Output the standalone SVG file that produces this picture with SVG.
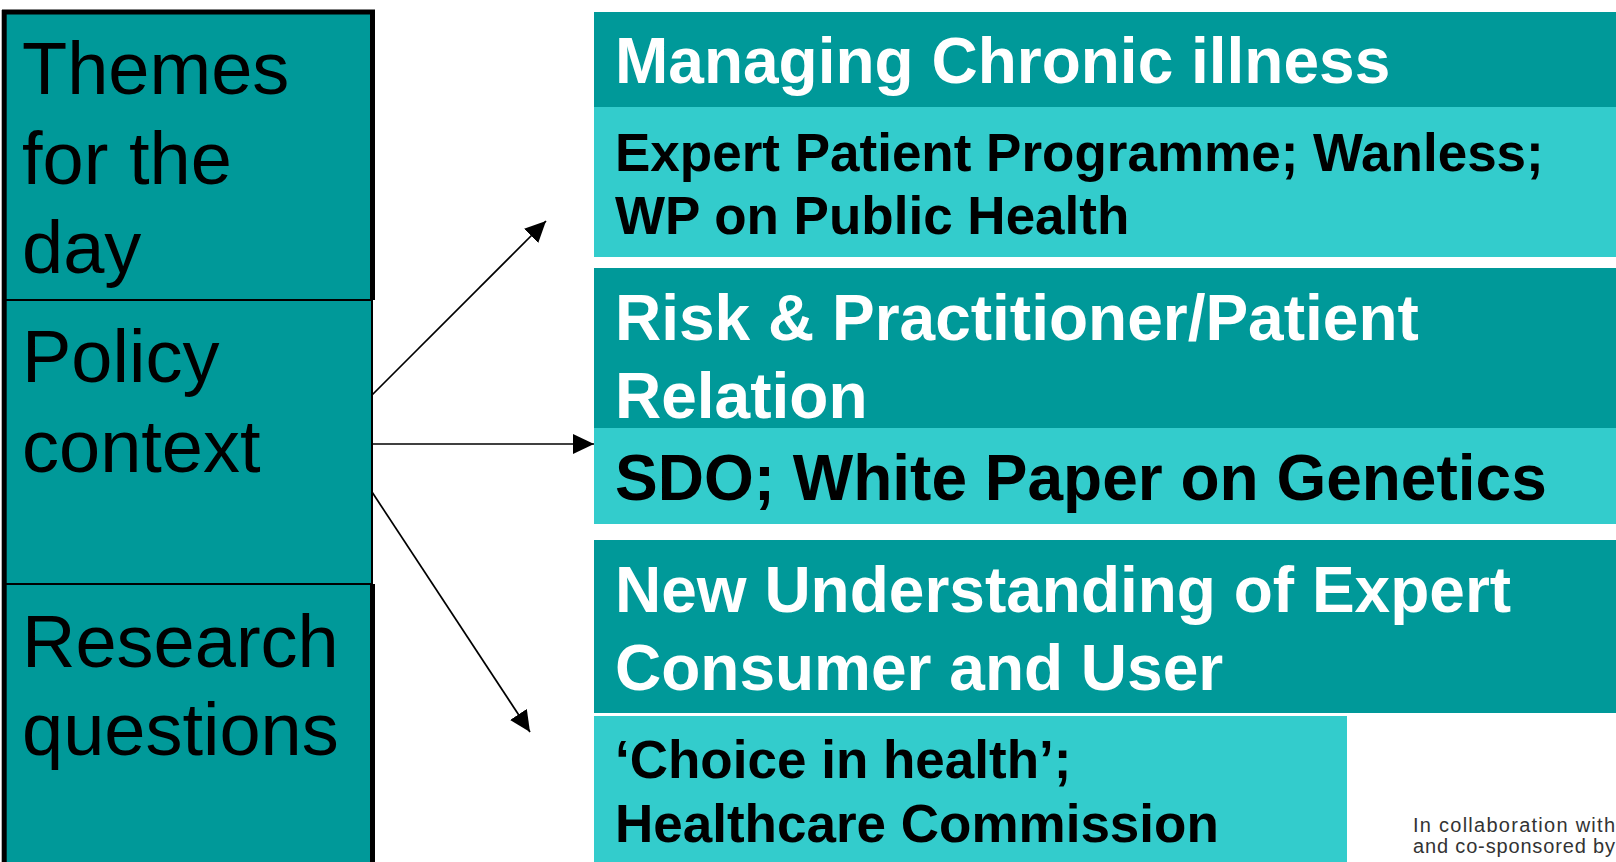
<svg xmlns="http://www.w3.org/2000/svg" width="1616" height="862" viewBox="0 0 1616 862">
<style>
.left{fill:#009999;stroke:#000;stroke-width:2}
.edge{stroke:#000;stroke-width:5;fill:none}
.lt{font-family:"Liberation Sans",Arial,sans-serif;font-size:74px;fill:#000}
.dark{fill:#009999}
.light{fill:#33CCCC}
.hd{font-family:"Liberation Sans",Arial,sans-serif;font-weight:bold;font-size:64px;fill:#fff}
.sb{font-family:"Liberation Sans",Arial,sans-serif;font-weight:bold;font-size:53px;fill:#000}
.sb64{font-family:"Liberation Sans",Arial,sans-serif;font-weight:bold;font-size:64px;fill:#000}
.conn{stroke:#000;stroke-width:1.7;fill:none;marker-end:url(#ah)}
.foot{font-family:"Liberation Sans",Arial,sans-serif;font-size:20px;fill:#333}
</style>
<defs>
<marker id="ah" markerUnits="userSpaceOnUse" markerWidth="21" markerHeight="20" viewBox="0 0 21 20" refX="21" refY="10" orient="auto">
<path d="M0,0 L21,10 L0,20 z" fill="#000"/>
</marker>
</defs>
<rect width="1616" height="862" fill="#fff"/>
<g id="themes">
<rect class="left" x="4" y="12" width="368" height="288"/>
<text class="lt" x="22" y="94">Themes</text>
<text class="lt" x="22" y="184">for the</text>
<text class="lt" x="22" y="273">day</text>
</g>
<g id="policy">
<rect class="left" x="4" y="300" width="368" height="284"/>
<text class="lt" x="22" y="382">Policy</text>
<text class="lt" x="22" y="472">context</text>
</g>
<g id="research">
<rect class="left" x="4" y="584" width="368" height="290"/>
<text class="lt" x="22" y="667">Research</text>
<text class="lt" x="22" y="755">questions</text>
</g>
<g id="left-edges">
<path class="edge" d="M4.2,10 V862 M2,12 H375 M372.5,10 V300 M372.5,584 V862"/>
</g>
<g id="chronic">
<rect class="dark" x="594" y="12" width="1022" height="96"/>
<text class="hd" x="615" y="83">Managing Chronic illness</text>
</g>
<g id="chronic-policy">
<rect class="light" x="594" y="107" width="1022" height="150"/>
<text class="sb" x="615" y="171">Expert Patient Programme; Wanless;</text>
<text class="sb" x="615" y="234">WP on Public Health</text>
</g>
<g id="risk">
<rect class="dark" x="594" y="268" width="1022" height="160"/>
<text class="hd" x="615" y="340">Risk &amp; Practitioner/Patient</text>
<text class="hd" x="615" y="418">Relation</text>
</g>
<g id="risk-policy">
<rect class="light" x="594" y="428" width="1022" height="96"/>
<text class="sb64" x="615" y="500">SDO; White Paper on Genetics</text>
</g>
<g id="expert">
<rect class="dark" x="594" y="540" width="1022" height="173"/>
<text class="hd" x="615" y="612">New Understanding of Expert</text>
<text class="hd" x="615" y="690">Consumer and User</text>
</g>
<g id="expert-policy">
<rect class="light" x="594" y="716" width="753" height="146"/>
<text class="sb" x="615" y="778">‘Choice in health’;</text>
<text class="sb" x="615" y="842">Healthcare Commission</text>
</g>
<g id="footer">
<text class="foot" x="1413" y="832" textLength="202" lengthAdjust="spacing">In collaboration with</text>
<text class="foot" x="1413" y="853" textLength="202" lengthAdjust="spacing">and co-sponsored by</text>
</g>
<g id="connectors">
<line class="conn" x1="372" y1="395" x2="546" y2="221"/>
<line class="conn" x1="372" y1="444" x2="594" y2="444"/>
<line class="conn" x1="372" y1="492" x2="530" y2="732"/>
</g>
</svg>
